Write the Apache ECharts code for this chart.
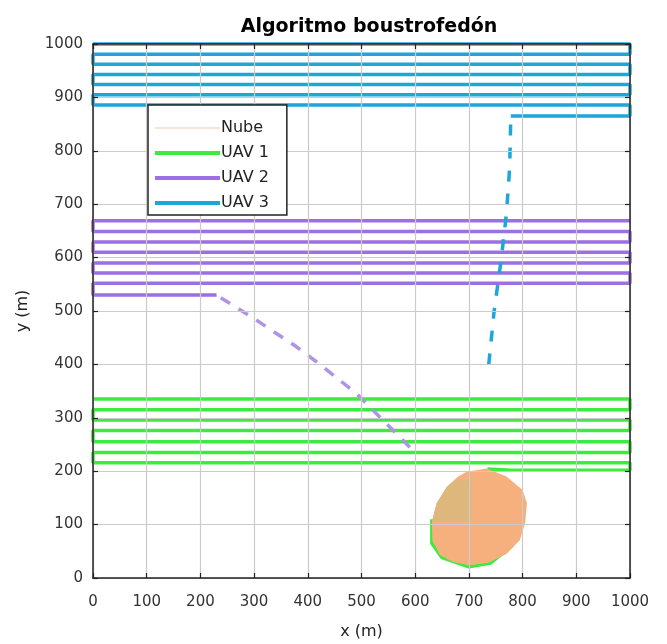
<!DOCTYPE html>
<html><head><meta charset="utf-8">
<script src="https://cdn.jsdelivr.net/npm/echarts@6/dist/echarts.min.js"></script>
<style>html,body{margin:0;padding:0;background:#fff}#c{width:667px;height:644px}</style>
</head><body><div id="c"></div>
<script>
const chartTitle = 'Algoritmo boustrofedón';
const xName = 'x (m)', yName = 'y (m)';
const axisMin = 0, axisMax = 1000, axisStep = 100;
const legendNames = ['Nube', 'UAV 1', 'UAV 2', 'UAV 3'];

// Cloud ("Nube") outline
const nubeX = [733, 770, 800, 808, 805, 795, 770, 735, 702, 670, 646, 632, 631, 640, 659, 680, 696, 733];
const nubeY = [205, 190, 165, 140, 105, 71, 45, 28, 24, 30, 43, 70, 105, 140, 171, 190, 199, 205];
// darker patch on the cloud
const sombraX = [631, 640, 659, 675, 705, 705, 631];
const sombraY = [105, 140, 171, 183, 183, 105, 105];

// UAV 1 (green) – around the cloud, then sweeps
const uav1X = [631, 631, 650, 700, 740, 780, 795, 770, 735, 780, 1000, 1000, 0, 0, 1000, 1000, 0, 0, 1000, 1000, 0, 0, 1000, 1000, 0];
const uav1Y = [110, 65, 38, 21, 28, 60, 140, 180, 204, 202, 202, 216, 216, 235, 235, 255, 255, 276, 276, 296, 296, 315, 315, 335, 335];

// UAV 2 (purple)
const uav2TransX = [590, 490, 416, 379, 298, 230];
const uav2TransY = [245, 346, 405, 433, 487, 530];
const uav2X = [230, 0, 0, 1000, 1000, 0, 0, 1000, 1000, 0, 0, 1000, 1000, 0, 0, 1000];
const uav2Y = [530, 530, 552, 552, 571, 571, 590, 590, 610, 610, 629, 629, 649, 649, 669, 669];

// UAV 3 (blue)
const uav3TransX = [737, 747, 760, 770, 776, 778];
const uav3TransY = [400, 500, 595, 683, 770, 863];
const uav3X = [778, 1000, 1000, 0, 0, 1000, 1000, 0, 0, 1000, 1000, 0, 0, 1000, 1000, 0];
const uav3Y = [865, 865, 886, 886, 905, 905, 924, 924, 943, 943, 962, 962, 981, 981, 1000, 1000];

const zip = (xs, ys) => xs.map((x, i) => [x, ys[i]]);

const C1 = '#3DEB3D', C2 = '#9C6FE4', C3 = '#1DA6DA', CN = '#F6B07E', CNL = '#E9C9A8';
const font = 'DejaVu Sans, Liberation Sans, Arial, sans-serif';

function polySeries(name, xs, ys, color, z) {
  const pts = zip(xs, ys);
  return {
    type: 'custom', name: name, z: z, silent: true,
    data: [0],
    renderItem: function (params, api) {
      return {
        type: 'polygon',
        shape: { points: pts.map(p => api.coord(p)) },
        style: { fill: color, stroke: null }
      };
    }
  };
}

const lineBase = { type: 'line', showSymbol: false, symbol: 'none', clip: false, animation: false };

const chart = echarts.init(document.getElementById('c'));
const axisCommon = {
  type: 'value', min: axisMin, max: axisMax, interval: axisStep, z: 10,
  axisLine: { show: true, onZero: false, lineStyle: { color: '#222', width: 1.5 } },
  axisTick: { show: true, inside: true, length: 5, lineStyle: { color: '#222', width: 1.2 } },
};
const labelFmt = v => String(v);
chart.setOption({
  animation: false,
  backgroundColor: '#fff',
  title: {
    text: chartTitle, left: 364, textAlign: 'center', top: 13,
    textStyle: { fontFamily: font, fontSize: 19, fontWeight: 'bold', color: '#000' }
  },
  grid: { left: 93, right: 37, top: 44, bottom: 66, show: false, containLabel: false, outerBoundsMode: 'none' },
  legend: {
    data: [
      { name: 'Nube', lineStyle: { width: 1, color: CNL } },
      { name: 'UAV 1', lineStyle: { width: 4, color: C1 } },
      { name: 'UAV 2', lineStyle: { width: 4, color: C2 } },
      { name: 'UAV 3', lineStyle: { width: 4, color: C3 } }
    ],
    orient: 'vertical', left: 148, top: 105,
    backgroundColor: '#fff', borderColor: '#222', borderWidth: 1.5, borderRadius: 0,
    padding: [15, 18, 4, 5], itemWidth: 65, itemHeight: 14, itemGap: 9,
    itemStyle: { opacity: 0 },
    textStyle: { fontFamily: font, fontSize: 16, color: '#222', padding: [0, 0, 0, -4] },
    selectedMode: false, z: 20
  },
  xAxis: [
    Object.assign({}, axisCommon, {
      position: 'bottom', name: xName, nameLocation: 'middle', nameGap: 46,
      nameTextStyle: { fontFamily: font, fontSize: 16, color: '#222' },
      axisLabel: { fontFamily: font, fontSize: 15, color: '#333', margin: 17, formatter: labelFmt },
      splitLine: { show: true, lineStyle: { color: '#cbcbcb', width: 1.2 } }
    }),
    Object.assign({}, axisCommon, {
      position: 'top', axisLabel: { show: false }, splitLine: { show: false }
    })
  ],
  yAxis: [
    Object.assign({}, axisCommon, {
      position: 'left', name: yName, nameLocation: 'middle', nameGap: 62,
      nameTextStyle: { fontFamily: font, fontSize: 16, color: '#222' },
      axisLabel: { fontFamily: font, fontSize: 15, color: '#333', margin: 10, formatter: labelFmt },
      splitLine: { show: true, lineStyle: { color: '#cbcbcb', width: 1.2 } }
    }),
    Object.assign({}, axisCommon, {
      position: 'right', axisLabel: { show: false }, splitLine: { show: false }
    })
  ],
  series: [
    Object.assign({}, lineBase, { name: 'Nube', data: [], color: CNL, lineStyle: { color: CNL, width: 1 }, z: 1 }),
    Object.assign({}, lineBase, { name: 'UAV 1', data: zip(uav1X, uav1Y), color: C1, lineStyle: { color: C1, width: 3.5 }, z: 2 }),
    Object.assign({}, lineBase, { name: 'UAV 2', data: zip(uav2X, uav2Y), color: C2, lineStyle: { color: C2, width: 3.5 }, z: 2 }),
    Object.assign({}, lineBase, { name: 'UAV 2', data: zip(uav2TransX, uav2TransY), color: C2, lineStyle: { color: '#AE94E4', width: 3.5, type: [11, 10] }, z: 2 }),
    Object.assign({}, lineBase, { name: 'UAV 3', data: zip(uav3X, uav3Y), color: C3, lineStyle: { color: C3, width: 3.5 }, z: 2 }),
    Object.assign({}, lineBase, { name: 'UAV 3', data: zip(uav3TransX, uav3TransY), color: C3, lineStyle: { color: C3, width: 3.5, type: [11, 12] }, z: 2 }),
    polySeries('Nube', nubeX, nubeY, CN, 3),
    polySeries('Nube', sombraX, sombraY, '#DDB77C', 4)
  ]
});
</script></body></html>
